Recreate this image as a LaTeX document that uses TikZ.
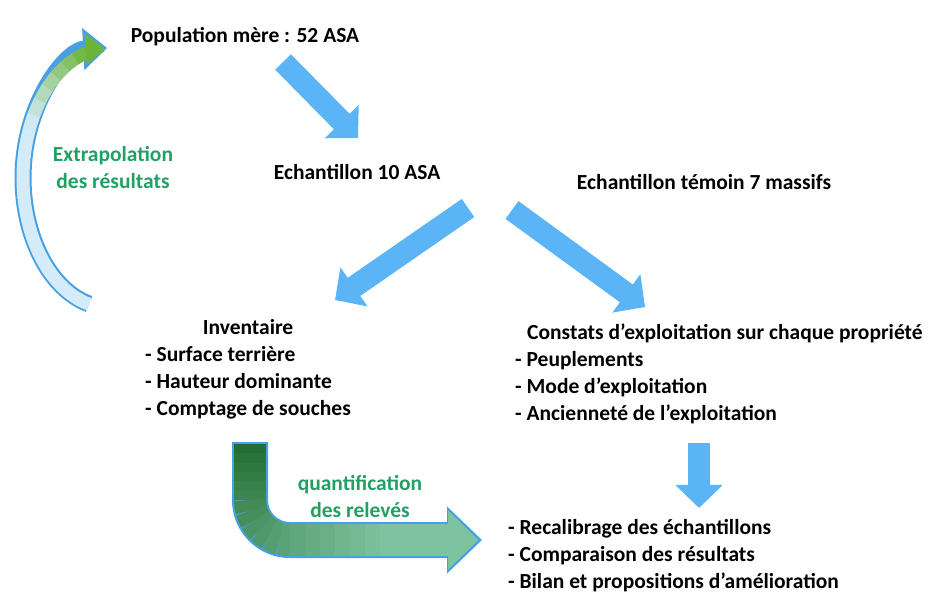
\documentclass[tikz,border=0pt]{standalone}
\usepackage{fontspec}
\setmainfont{Carlito}
\usepackage{tikz}
\usetikzlibrary{arrows.meta,calc,positioning}

\definecolor{arrowblue}{RGB}{90,180,245}
\definecolor{edgeblue}{RGB}{70,160,225}
\definecolor{labelgreen}{RGB}{34,160,100}
\definecolor{darkgreen}{RGB}{35,110,50}
\definecolor{lightgreen}{RGB}{125,195,160}
\definecolor{leafgreen}{RGB}{110,180,60}
\definecolor{paleblue}{RGB}{212,235,250}

\begin{document}
\begin{tikzpicture}
[x=1pt,y=-1pt]
\tikzset{
	boxtext/.style = {font=\fontsize{21.5}{27}\selectfont\bfseries, inner sep=0},
	itemlist/.style = {boxtext, anchor=base west},
	greenlabel/.style = {boxtext, text=labelgreen, align=center},
	bluearrow/.style = {draw=arrowblue, line width=22pt, -{Triangle[length=0pt 1.05, width=0pt 2.1]}},
	bendarrow/.style = {draw=edgeblue, line width=36pt, -{Triangle[length=0pt 0.97, width=0pt 1.8]}},
	bendfill/.style = {line width=32pt},
	bendtip/.style = {bendfill, -{Triangle[length=0pt 0.95, width=0pt 1.8]}, shorten >=3.5pt},
	looparrow/.style = {draw=edgeblue, line width=17pt, -{Triangle[length=0pt 1.4, width=0pt 2.4]}},
	loopfill/.style = {line width=13pt},
	looptip/.style = {loopfill, -{Triangle[length=0pt 1.4, width=0pt 2.4]}, shorten >=3pt}
}
\useasboundingbox (0,0) rectangle (944,608);

% texts
\node[boxtext] (pop) at (245,37) {Population mère : 52 ASA};
\node[boxtext] (ech) at (357,172) {Echantillon 10 ASA};
\node[boxtext] (temoin) at (704,182) {Echantillon témoin 7 massifs};

\node[itemlist] (inv) at (145,334) {\begin{tabular}[t]{@{}l@{}}
	\multicolumn{1}{@{}c@{}}{Inventaire}\\
	- Surface terrière\\
	- Hauteur dominante\\
	- Comptage de souches
\end{tabular}};
\node[itemlist] (con) at (515,339) {\begin{tabular}[t]{@{}l@{}}
	\hspace{12pt}Constats d'exploitation sur chaque propriété\\
	- Peuplements\\
	- Mode d'exploitation\\
	- Ancienneté de l'exploitation
\end{tabular}};
\node[itemlist] (bil) at (508,534) {\begin{tabular}[t]{@{}l@{}}
	- Recalibrage des échantillons\\
	- Comparaison des résultats\\
	- Bilan et propositions d'amélioration
\end{tabular}};

\node[greenlabel] (extrap) at (113,168) {Extrapolation\\des résultats};
\node[greenlabel] (quant) at (360,497) {quantification\\des relevés};

% blue arrows
\draw[bluearrow] ($(pop)+(38,25)$) -- ($(ech)+(1,-34)$);
\draw[bluearrow] ($(ech)+(111,36)$) -- ($(inv.base west)+(190,-34)$);
\draw[bluearrow] ($(temoin)+(-192,28)$) -- ($(con.base west)+(130,-32)$);
\draw[bluearrow] ($(con.base west)+(184,104)$) -- ($(bil.base west)+(191,-26)$);

% curved arrow back to the population
\coordinate (ex0) at ($(inv.base west)+(-56,-30)$);
\coordinate (exc) at ($(ex0)+(21,-126)$);
\draw[looparrow] (ex0) arc[start angle=104, end angle=268, x radius=87, y radius=130];
\foreach \k in {0,...,19}{
	\pgfmathsetmacro\a{104+\k*7.5}
	\pgfmathtruncatemacro\p{max(0,min(100,(\a-200)*2))}
	\draw[loopfill, draw=leafgreen!\p!paleblue]
		([shift={(exc)}]\a:87 and 130)
		arc[start angle=\a, end angle=\a+7.8, x radius=87, y radius=130];
}
\draw[looptip, draw=leafgreen, fill=leafgreen]
	([shift={(exc)}]254:87 and 130) arc[start angle=254, end angle=268, x radius=87, y radius=130];

% bent arrow to the comparison
\coordinate (q0) at ($(inv.base west)+(105,108)$);
\coordinate (qc) at ($(q0)+(40,58)$);
\draw[bendarrow] (q0) -- ++(0,58) arc[start angle=180, end angle=90, radius=40]
	-- ($(bil.base west)+(-26,6)$);
\foreach \i in {0,...,5}{
	\pgfmathtruncatemacro\p{100-\i*100/18}
	\draw[bendfill, draw=darkgreen!\p!lightgreen] ($(q0)+(0,2+\i*9.33)$) -- ++(0,9.8);
}
\foreach \j in {0,...,5}{
	\pgfmathtruncatemacro\p{100-(\j+6)*100/18}
	\pgfmathsetmacro\a{180-\j*15}
	\draw[bendfill, draw=darkgreen!\p!lightgreen]
		([shift={(qc)}]\a:40) arc[start angle=\a, end angle=\a-15.5, radius=40];
}
\foreach \k in {0,...,5}{
	\pgfmathtruncatemacro\p{100-(\k+12)*100/18}
	\draw[bendfill, draw=darkgreen!\p!lightgreen] ($(qc)+(\k*15,40)$) -- ++(15.5,0);
}
\draw[bendtip, draw=lightgreen, fill=lightgreen] ($(qc)+(90,40)$) -- ($(bil.base west)+(-26,6)$);

\end{tikzpicture}
\end{document}
